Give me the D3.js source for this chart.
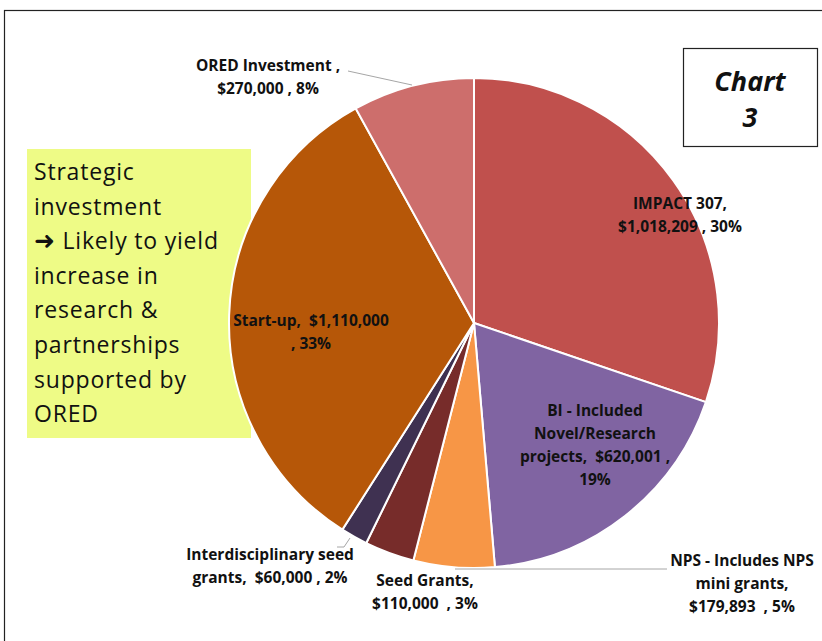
<!DOCTYPE html>
<html>
<head>
<meta charset="utf-8">
<script src="https://cdn.jsdelivr.net/npm/d3@7"></script>
<style>
  body { margin: 0; background: #fff; }
  svg { display: block; font-family: "Open Sans", Lato, sans-serif; }
  text { white-space: pre; }
</style>
</head>
<body>
<div id="chart-area"></div>
<script>
// dados do gráfico
const categories = ["IMPACT 307", "BI - Included Novel/Research projects", "NPS - Includes NPS mini grants",
  "Seed Grants", "Interdisciplinary seed grants", "Start-up", "ORED Investment"]
const values = [1018209, 620001, 179893, 110000, 60000, 1110000, 270000]
const colors = ["#C0504D", "#8064A2", "#F79646", "#772C2A", "#3F3151", "#B65708", "#CD6E6C"]
const labelLines = [
  ["IMPACT 307,", "$1,018,209 , 30%"],
  ["BI - Included", "Novel/Research", "projects,  $620,001 ,", "19%"],
  ["NPS - Includes NPS", "mini grants,", "$179,893  , 5%"],
  ["Seed Grants,", "$110,000  , 3%"],
  ["Interdisciplinary seed", "grants,  $60,000 , 2%"],
  ["Start-up,  $1,110,000", ", 33%"],
  ["ORED Investment ,", "$270,000 , 8%"]
]
const noteLines = ["Strategic", "investment", "Likely to yield", "increase in", "research &",
  "partnerships", "supported by", "ORED"]

// posição dos rótulos (deslocamento em relação ao centro da pizza) e linhas guia
const labelPos = [[206, -107.5], [121, 122.5], [268, 261], [-49, 269], [-204, 243.5], [-163, 9.5], [-206, -245.5]]
const leaders = [null, null, [[-19, 246], [193, 246]], null, [[-124, 215], [-130, 224], [-137, 224]], null,
  [[-62, -238], [-126, -252]]]

const W = 822, H = 641
const CX = 474, CY = 323, R = 245

const svg = d3.select("#chart-area").append("svg")
  .attr("width", W)
  .attr("height", H)

// moldura externa
svg.append("rect")
  .attr("x", 4.5).attr("y", 10.5)
  .attr("width", W + 20).attr("height", H + 20)
  .attr("fill", "none")
  .attr("stroke", "#222")
  .attr("stroke-width", 1.2)

// caixa amarela (fica atrás da pizza)
svg.append("rect")
  .attr("x", 27).attr("y", 149)
  .attr("width", 224).attr("height", 289)
  .attr("fill", "#EEFB86")

const data = categories.map((c, i) => ({ name: c, value: values[i], color: colors[i], lines: labelLines[i], i }))

const pie = d3.pie().sort(null).value(d => d.value)
const arc = d3.arc().innerRadius(0).outerRadius(R)

const g = svg.append("g").attr("transform", `translate(${CX}, ${CY})`)

g.selectAll("path.slice")
  .data(pie(data))
  .join("path")
  .attr("class", "slice")
  .attr("d", arc)
  .attr("fill", d => d.data.color)
  .attr("stroke", "#fff")
  .attr("stroke-width", 2)

// texto da caixa amarela
const note = svg.append("text")
  .attr("font-size", "23px")
  .attr("letter-spacing", "0.8px")
  .attr("fill", "#111")
noteLines.forEach((line, k) => {
  const ts = note.append("tspan")
    .attr("x", 34)
    .attr("y", 172 + k * 34.6)
    .attr("dy", "0.35em")
  if (k === 2) {
    // seta grossa antes do texto
    ts.append("tspan").attr("font-family", "DejaVu Sans").attr("font-size", "25px").text("\u279C")
    ts.append("tspan").text(" " + line)
  } else {
    ts.text(line)
  }
})

// linhas guia
leaders.forEach(l => {
  if (!l) return
  g.append("path")
    .attr("d", d3.line()(l))
    .attr("fill", "none")
    .attr("stroke", "#A6A6A6")
    .attr("stroke-width", 1)
})

// rótulos
const lh = 23
data.forEach((d, i) => {
  const [dx, dy] = labelPos[i]
  const t = g.append("text")
    .attr("text-anchor", "middle")
    .attr("font-size", "15.5px")
    .attr("font-weight", "bold")
    .attr("fill", "#111")
  d.lines.forEach((line, k) => {
    t.append("tspan")
      .attr("x", dx)
      .attr("y", dy + (k - (d.lines.length - 1) / 2) * lh)
      .attr("dy", "0.35em")
      .text(line)
  })
})

// caixa "Chart 3"
svg.append("rect")
  .attr("x", 683.5).attr("y", 48.5)
  .attr("width", 134).attr("height", 98)
  .attr("fill", "#fff")
  .attr("stroke", "#222")
  .attr("stroke-width", 1.2)
const ct = svg.append("text")
  .attr("text-anchor", "middle")
  .attr("font-size", "27px")
  .attr("font-weight", "bold")
  .attr("font-style", "italic")
  .attr("fill", "#111")
;["Chart", "3"].forEach((line, k) => {
  ct.append("tspan")
    .attr("x", 750)
    .attr("y", 82 + k * 36)
    .attr("dy", "0.35em")
    .text(line)
})
</script>
</body>
</html>
